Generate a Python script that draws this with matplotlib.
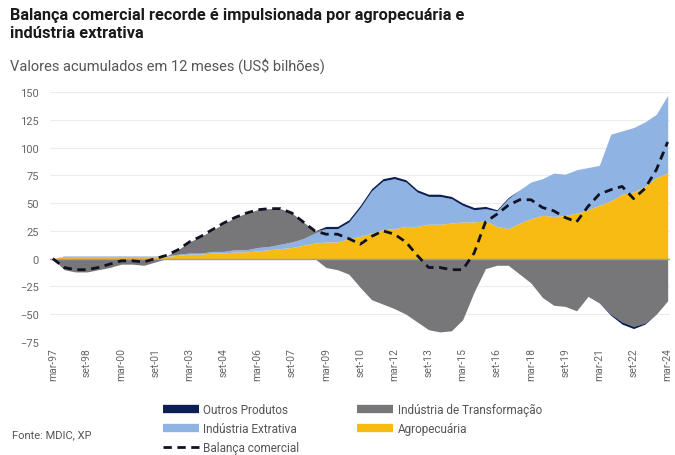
import numpy as np
import pandas as pd
import matplotlib
matplotlib.use("Agg")
import matplotlib.pyplot as plt
from matplotlib.lines import Line2D

plt.rcParams['font.family'] = ['Roboto', 'DejaVu Sans']

# ---------------------------------------------------------
# dados (US$ bilhoes, acumulado 12 meses, semestral mar/set)
datas = pd.date_range('1997-03-01', '2024-03-01', freq='6MS')

balanca = [0, -8, -10, -10, -8, -5, -2, -2, -3, 0,
           3, 8, 15, 20, 26, 32, 37, 41, 44, 45,
           45, 41, 33, 25, 22, 22, 18, 13, 20, 25,
           22, 15, 3, -8, -8, -10, -10, 5, 33, 40,
           48, 53, 53, 46, 43, 37, 33, 47, 58, 62,
           65, 54, 63, 80, 105]

agro = [0, 2, 2, 2, 2, 2, 2, 2, 2, 2,
        2, 3, 4, 4, 5, 5, 6, 6, 7, 8,
        9, 10, 12, 14, 15, 15, 18, 20, 23, 26,
        27, 29, 29, 31, 31, 32, 33, 33, 34, 29,
        27, 32, 36, 39, 38, 39, 41, 44, 48, 52,
        58, 60, 65, 73, 77]

extrativa = [0, 0.5, 0.5, 0.5, 0.5, 0.5, 0.5, 0.5, 0.5, 0.5,
             0.5, 1, 1, 1, 1.5, 1.5, 2, 2, 3, 3,
             4, 5, 6, 9, 12, 12, 15, 26, 38, 44,
             45, 40, 31, 25, 25, 22, 15, 11, 11, 14,
             27, 30, 33, 33, 39, 37, 39, 38, 36, 60,
             57, 58, 58, 57, 70]

transformacao = [0, -10, -12, -12, -10, -8, -5, -5, -6, -3,
                 0, 4, 10, 15, 19, 25, 29, 33, 34, 34,
                 32, 26, 15, 2, -8, -10, -14, -26, -37, -41,
                 -45, -50, -57, -64, -66, -65, -55, -30, -9, -6,
                 -6, -14, -22, -35, -42, -43, -47, -34, -40, -50,
                 -57, -61, -58, -50, -38]

outros = [0, 0, 0, 0, 0, 0, 0, 0, 0, 0,
          0, 0, 0, 0, 0, 0, 0, 0, 0, 0,
          0, 0, 0, 0, 2, 2, 2, 2, 2, 2,
          2, 2, 2, 2, 2, 2, 2, 2, 2, 1,
          1, 0, 0, 0, 0, 0, 0, 0, 0, -1,
          -2, -2, -1, 0, 0]

rotulos_x = ['mar-97', 'set-98', 'mar-00', 'set-01', 'mar-03', 'set-04', 'mar-06',
             'set-07', 'mar-09', 'set-10', 'mar-12', 'set-13', 'mar-15', 'set-16',
             'mar-18', 'set-19', 'mar-21', 'set-22', 'mar-24']

nomes = ['Agropecuária', 'Indústria Extrativa', 'Indústria de Transformação', 'Outros Produtos']
cores = ['#f7bb12', '#8fb3e2', '#77777a', '#0c1f55']
series = [agro, extrativa, transformacao, outros]

# ---------------------------------------------------------
fig = plt.figure(figsize=(6.75, 4.56), dpi=100)
ax = fig.add_axes([0.074, 0.248, 0.918, 0.548])

base_pos = np.zeros(len(datas))
base_neg = np.zeros(len(datas))
for serie, cor in zip(series, cores):
    v = np.array(serie, dtype=float)
    pos = np.clip(v, 0, None)
    neg = np.clip(v, None, 0)
    ax.fill_between(datas, base_pos, base_pos + pos, color=cor, lw=0)
    ax.fill_between(datas, base_neg, base_neg + neg, color=cor, lw=0)
    base_pos = base_pos + pos
    base_neg = base_neg + neg

ax.axhline(0, color='#a09ab8', lw=1, zorder=3)
ax.plot(datas, balanca, color='#111122', lw=2, dashes=(3, 2), zorder=4)

ax.set_ylim(-75, 150)
ax.set_yticks(np.arange(-75, 151, 25))
ax.set_xlim(pd.Timestamp('1997-01-15'), pd.Timestamp('2024-04-01'))
ticks_x = pd.date_range('1997-03-01', '2024-03-01', freq='18MS')
ax.set_xticks(ticks_x)
ax.set_xticklabels(rotulos_x, rotation=90, fontsize=7.5, color='#666666')
ax.tick_params(axis='y', labelsize=8, colors='#666666', length=0, pad=8)
ax.tick_params(axis='x', length=0, pad=4)
ax.grid(axis='y', color='#ececec', lw=0.8)
ax.set_axisbelow(True)
for s in ax.spines.values():
    s.set_visible(False)

# titulos
fig.text(0.015, 0.982, 'Balança comercial recorde é impulsionada por agropecuária e\nindústria extrativa',
         fontsize=11.8, fontweight='bold', color='#1a1a1a', va='top', ha='left', linespacing=1.25)
fig.text(0.015, 0.872, 'Valores acumulados em 12 meses (US\\$ bilhões)',
         fontsize=10.5, color='#555555', va='top', ha='left')
fig.text(0.018, 0.035, 'Fonte: MDIC, XP', fontsize=8, color='#555555', va='bottom', ha='left')

# legenda
h_outros = Line2D([], [], color=cores[3], lw=6, solid_capstyle='butt')
h_extr = Line2D([], [], color=cores[1], lw=6, solid_capstyle='butt')
h_bal = Line2D([], [], color='#111122', lw=2, dashes=(3, 2))
h_transf = Line2D([], [], color=cores[2], lw=6, solid_capstyle='butt')
h_agro = Line2D([], [], color=cores[0], lw=6, solid_capstyle='butt')
fig.legend([h_outros, h_extr, h_bal, h_transf, h_agro],
           ['Outros Produtos', 'Indústria Extrativa', 'Balança comercial',
            'Indústria de Transformação', 'Agropecuária'],
           ncol=2, loc='upper left', bbox_to_anchor=(0.235, 0.124),
           bbox_transform=fig.transFigure, frameon=False, fontsize=8.5,
           labelcolor='#555555', handlelength=3, handletextpad=0.4,
           columnspacing=4.9, labelspacing=0.5, borderaxespad=0)

fig.savefig('out.png', dpi=100)
